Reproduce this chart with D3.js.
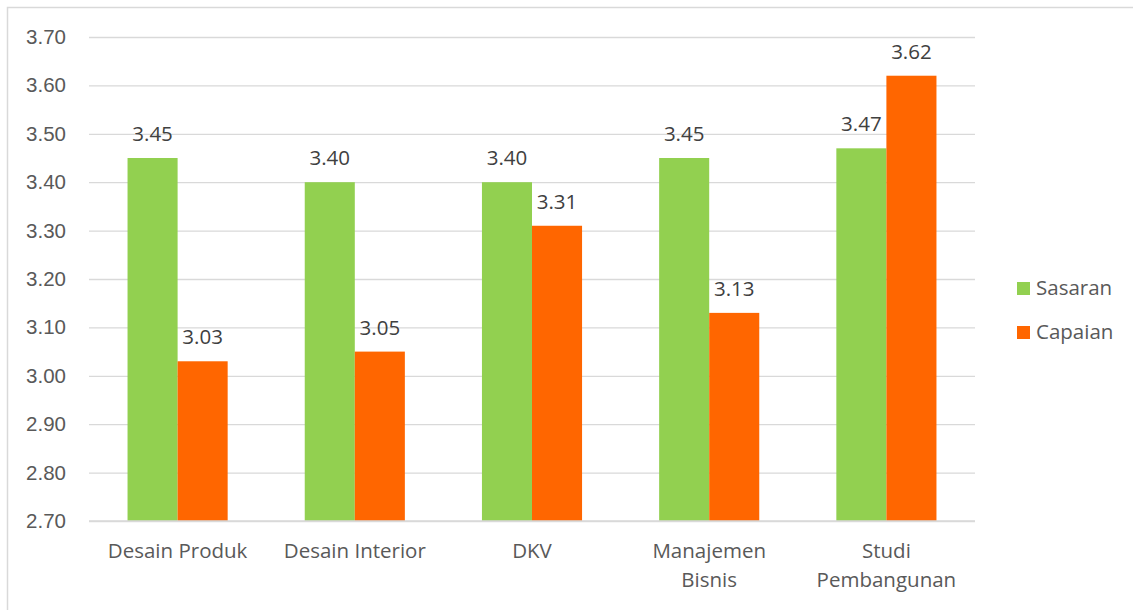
<!DOCTYPE html>
<html><head><meta charset="utf-8">
<script src="https://cdn.jsdelivr.net/npm/d3@7"></script>
<style>body{margin:0;background:#fff;}svg{display:block;font-family:"Open Sans","Noto Sans",sans-serif;}</style>
</head><body>
<svg id="c" width="1133" height="610"></svg>
<script>
const categories = [["Desain Produk"], ["Desain Interior"], ["DKV"], ["Manajemen", "Bisnis"], ["Studi", "Pembangunan"]];
const seriesNames = ["Sasaran", "Capaian"];
const sasaran = [3.45, 3.40, 3.40, 3.45, 3.47];
const capaian = [3.03, 3.05, 3.31, 3.13, 3.62];
const colors = ["#92D050", "#FF6600"];
const yTicks = [2.70, 2.80, 2.90, 3.00, 3.10, 3.20, 3.30, 3.40, 3.50, 3.60, 3.70];
const fs = "20.5px";

const svg = d3.select("#c");
svg.append("rect").attr("x", 7.5).attr("y", 7.5).attr("width", 1140).attr("height", 620)
  .attr("fill", "#fff").attr("stroke", "#d9d9d9").attr("stroke-width", 1.5);

const pL = 89, pR = 975, pT = 37, pB = 521;
const y = d3.scaleLinear().domain([2.7, 3.7]).range([pB, pT]);
const x0 = d3.scaleBand().domain(d3.range(categories.length)).range([pL, pR]).paddingInner(0.435).paddingOuter(0.2175);
const x1 = d3.scaleBand().domain([0, 1]).range([0, x0.bandwidth()]);

const gAxis = svg.append("g").attr("transform", `translate(${pL},0)`)
  .call(d3.axisLeft(y).tickValues(yTicks).tickFormat(d3.format(".2f")).tickSize(-(pR - pL)).tickPadding(23));
gAxis.select(".domain").remove();
gAxis.selectAll(".tick line").attr("stroke", "#d9d9d9").attr("stroke-width", 1.3);
gAxis.selectAll(".tick text").attr("fill", "#595959").style("font-size", fs);

const data = [sasaran, capaian];
const g = svg.append("g");
categories.forEach((c, i) => {
  data.forEach((s, k) => {
    const xx = x0(i) + x1(k);
    g.append("rect").attr("x", xx).attr("y", y(s[i])).attr("width", x1.bandwidth())
      .attr("height", y(2.7) - y(s[i])).attr("fill", colors[k]);
    g.append("text").attr("x", xx + x1.bandwidth() / 2).attr("y", y(s[i]) - 17)
      .attr("text-anchor", "middle").attr("fill", "#404040").style("font-size", fs)
      .text(d3.format(".2f")(s[i]));
  });
  const t = g.append("text").attr("text-anchor", "middle").attr("fill", "#595959").style("font-size", fs);
  c.forEach((line, j) => {
    t.append("tspan").attr("x", x0(i) + x0.bandwidth() / 2).attr("y", 558 + j * 29).text(line);
  });
});

svg.append("line").attr("x1", pL).attr("x2", pR).attr("y1", pB).attr("y2", pB)
  .attr("stroke", "#d9d9d9").attr("stroke-width", 1.3);

const lg = svg.append("g");
seriesNames.forEach((n, k) => {
  lg.append("rect").attr("x", 1017).attr("y", 282 + k * 44).attr("width", 13).attr("height", 13).attr("fill", colors[k]);
  lg.append("text").attr("x", 1036).attr("y", 295 + k * 44).attr("fill", "#595959").style("font-size", fs).text(n);
});
</script>
</body></html>
